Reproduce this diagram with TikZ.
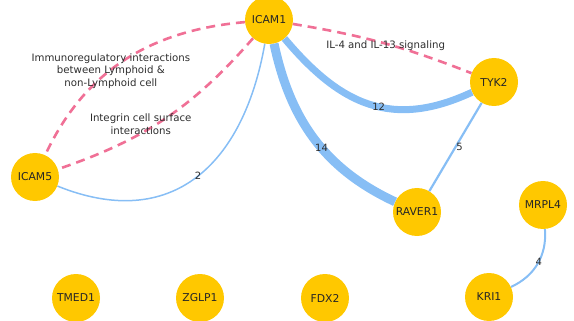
\documentclass[tikz,border=0pt]{standalone}
\usepackage{fontspec}
\setmainfont{DejaVu Sans}
\definecolor{genefill}{RGB}{255,200,0}
\definecolor{linkblue}{RGB}{135,190,245}
\definecolor{pathpink}{RGB}{240,112,150}
\definecolor{labelgray}{RGB}{45,45,45}

\begin{document}
\begin{tikzpicture}[x = 1pt, y = 1pt]
    \tikzstyle{gene} = [circle, fill = genefill, minimum size = 48pt, inner sep = 0pt, text = black!85, font = \fontsize{10.8}{12}\selectfont];
    \tikzstyle{link} = [draw = linkblue];
    \tikzstyle{pathway} = [draw = pathpink, line width = 2.6pt, dash pattern = on 9pt off 6pt];
    \tikzstyle{weight} = [text = labelgray, inner sep = 0pt, font = \fontsize{10}{12}\selectfont];
    \tikzstyle{anno} = [text = labelgray, inner sep = 0pt, align = center, font = \fontsize{10.2}{12.5}\selectfont];
    \useasboundingbox (0,0) rectangle (574,-321);
    \node[gene] (icam1) at (269,-20) {ICAM1};
    \node[gene] (tyk2) at (494,-82) {TYK2};
    \node[gene] (icam5) at (35,-177) {ICAM5};
    \node[gene] (raver1) at (417,-212) {RAVER1};
    \node[gene] (mrpl4) at (543,-205) {MRPL4};
    \node[gene] (kri1) at (489,-297) {KRI1};
    \node[gene] (tmed1) at (76,-298) {TMED1};
    \node[gene] (zglp1) at (200,-298) {ZGLP1};
    \node[gene] (fdx2) at (325,-298) {FDX2};
    % weighted links
    \draw[link, line width = 1.5pt] (icam1) to[out = -100, in = -22, looseness = 1.25] node[weight, pos = 0.49] {2} (icam5);
    \draw[link, line width = 7pt] (icam1) to[out = -50, in = 205, looseness = 1.15] node[weight, pos = 0.55] {12} (tyk2);
    \draw[link, line width = 9pt] (icam1) to[out = -78, in = 155] node[weight, pos = 0.56] {14} (raver1);
    \draw[link, line width = 2.2pt] (tyk2) -- node[weight, pos = 0.5, xshift = 4pt] {5} (raver1);
    \draw[link, line width = 2pt] (mrpl4) to[bend left = 35] node[weight, pos = 0.47] {4} (kri1);
    % shared pathways
    \draw[pathway] (icam1) to[out = 185, in = 65] node[anno, pos = 0.5, xshift = -14pt, yshift = -11pt] {Immunoregulatory interactions\\between Lymphoid \&\\non-Lymphoid cell} (icam5);
    \draw[pathway] (icam1) to[bend left = 15] node[anno, pos = 0.6, xshift = -6pt, yshift = 6pt] {Integrin cell surface\\interactions} (icam5);
    \draw[pathway] (icam1) to[bend left = 6] node[anno, pos = 0.5, xshift = 2pt, yshift = -3pt] {IL-4 and IL-13 signaling} (tyk2);
\end{tikzpicture}
\end{document}
